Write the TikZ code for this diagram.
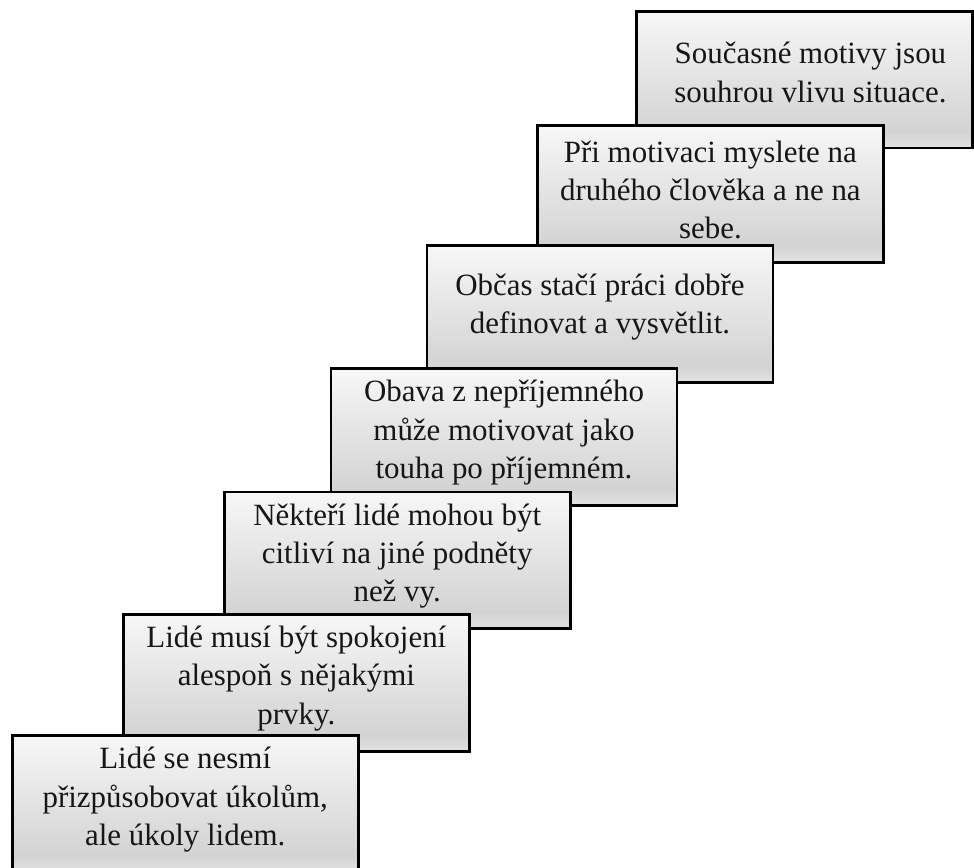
\documentclass[tikz,border=0pt]{standalone}
\usepackage{fontspec}
\setmainfont{Liberation Serif}
\usepackage{tikz}
\definecolor{stairtop}{HTML}{F7F7F7}
\definecolor{stairlow}{HTML}{D3D3D3}
\definecolor{stairedge}{HTML}{E3E3E3}
\definecolor{stairtext}{HTML}{161616}
\pgfdeclareverticalshading{stairshade}{100bp}{color(0bp)=(stairedge); color(25bp)=(stairedge); color(31bp)=(stairlow); color(75bp)=(stairtop); color(100bp)=(stairtop)}
\tikzset{
  stairbox/.style={rectangle, draw=black, line width=2pt, shading=stairshade,
                   minimum width=8.65cm, minimum height=3.42cm, inner sep=0pt},
  steptext/.style={text=stairtext, align=center, inner sep=1pt,
                   font=\fontsize{22}{27.2}\selectfont},
}

\begin{document}
\begin{tikzpicture}
  \useasboundingbox (0,0) rectangle (24.35,21.7);

  % top step first, every lower step lies over the one above it
  \node[stairbox, minimum width=8.4cm] (step1) at (20.12, 19.71) {};
  \node[steptext] (text1) at ([xshift=4pt, yshift=5pt]step1.center)
    {Současné motivy jsou\\souhrou vlivu situace.};

  \node[stairbox] (step2) at (17.76, 16.85) {};
  \node[steptext] (text2) at ([yshift=3pt]step2.center)
    {Při motivaci myslete na\\druhého člověka a ne na\\sebe.};

  \node[stairbox] (step3) at (15.00, 13.85) {};
  \node[steptext] (text3) at ([yshift=5pt]step3.center)
    {Občas stačí práci dobře\\definovat a vysvětlit.};

  \node[stairbox] (step4) at (12.60, 10.78) {};
  \node[steptext] (text4) at ([yshift=3pt]step4.center)
    {Obava z nepříjemného\\může motivovat jako\\touha po příjemném.};

  \node[stairbox] (step5) at (9.93, 7.69) {};
  \node[steptext] (text5) at ([yshift=3pt]step5.center)
    {Někteří lidé mohou být\\citliví na jiné podněty\\než vy.};

  \node[stairbox] (step6) at (7.41, 4.63) {};
  \node[steptext] (text6) at ([yshift=3pt]step6.center)
    {Lidé musí být spokojení\\alespoň s nějakými\\prvky.};

  \node[stairbox] (step7) at (4.63, 1.60) {};
  \node[steptext] (text7) at ([yshift=3pt]step7.center)
    {Lidé se nesmí\\přizpůsobovat úkolům,\\ale úkoly lidem.};
\end{tikzpicture}
\end{document}
